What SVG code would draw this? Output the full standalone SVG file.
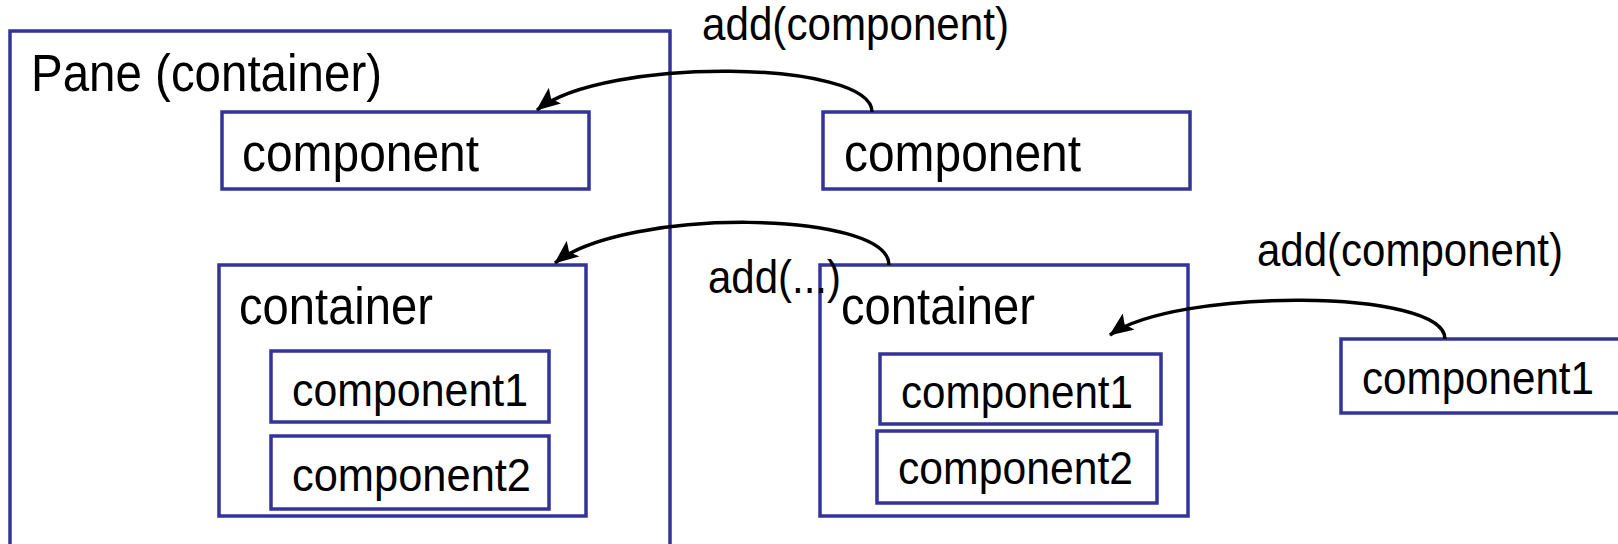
<svg xmlns="http://www.w3.org/2000/svg" width="1618" height="544" viewBox="0 0 1618 544">
  <style>
    .box { fill: none; stroke: #333399; stroke-width: 3.5; }
    .lbl { font-family: "Liberation Sans", Arial, sans-serif; fill: #000; }
    .big { font-size: 51px; }
    .small { font-size: 46px; }
    .conn { fill: none; stroke: #000; stroke-width: 3.5; }
  </style>
  <defs>
    <marker id="arrow" viewBox="0 0 24 20" refX="23" refY="10" markerWidth="24" markerHeight="20" markerUnits="userSpaceOnUse" orient="auto">
      <path d="M0,0 L24,10 L0,20 L5,10 z" fill="#000"/>
    </marker>
  </defs>
  <rect width="1618" height="544" fill="#fff"/>

  <!-- outer pane -->
  <g id="pane">
    <rect class="box" x="10" y="31" width="660" height="540"/>
    <text class="lbl big" x="31" y="91" textLength="351" lengthAdjust="spacingAndGlyphs">Pane (container)</text>
  </g>

  <!-- component already inside the pane -->
  <g id="pane-component">
    <rect class="box" x="222" y="112" width="367" height="77"/>
    <text class="lbl big" x="242" y="171" textLength="237" lengthAdjust="spacingAndGlyphs">component</text>
  </g>

  <!-- free component -->
  <g id="free-component">
    <rect class="box" x="823" y="112" width="367" height="77"/>
    <text class="lbl big" x="844" y="171" textLength="237" lengthAdjust="spacingAndGlyphs">component</text>
  </g>

  <!-- container inside the pane -->
  <g id="pane-container">
    <rect class="box" x="219" y="265" width="367" height="251"/>
    <text class="lbl big" x="239" y="324" textLength="194" lengthAdjust="spacingAndGlyphs">container</text>
  </g>
  <g id="pane-container-c1">
    <rect class="box" x="271" y="351" width="278" height="71"/>
    <text class="lbl small" x="292" y="406" textLength="236" lengthAdjust="spacingAndGlyphs">component1</text>
  </g>
  <g id="pane-container-c2">
    <rect class="box" x="271" y="436" width="278" height="73"/>
    <text class="lbl small" x="292" y="491" textLength="239" lengthAdjust="spacingAndGlyphs">component2</text>
  </g>

  <!-- free container -->
  <g id="free-container">
    <rect class="box" x="820" y="265" width="368" height="251"/>
    <text class="lbl big" x="841" y="324" textLength="194" lengthAdjust="spacingAndGlyphs">container</text>
  </g>
  <g id="free-container-c1">
    <rect class="box" x="880" y="354" width="281" height="70"/>
    <text class="lbl small" x="901" y="408" textLength="232" lengthAdjust="spacingAndGlyphs">component1</text>
  </g>
  <g id="free-container-c2">
    <rect class="box" x="877" y="431" width="280" height="72"/>
    <text class="lbl small" x="898" y="484" textLength="235" lengthAdjust="spacingAndGlyphs">component2</text>
  </g>

  <!-- free component1 -->
  <g id="free-component1">
    <rect class="box" x="1341" y="339" width="300" height="74"/>
    <text class="lbl small" x="1362" y="394" textLength="232" lengthAdjust="spacingAndGlyphs">component1</text>
  </g>

  <!-- add() calls -->
  <g id="connectors">
    <path class="conn" d="M872,112 C872,60 605,56 537,110" marker-end="url(#arrow)"/>
    <text class="lbl small" x="702" y="40" textLength="307" lengthAdjust="spacingAndGlyphs">add(component)</text>
    <path class="conn" d="M889,265 C889,210 625,207 555,263" marker-end="url(#arrow)"/>
    <text class="lbl small" x="708" y="293" textLength="133" lengthAdjust="spacingAndGlyphs">add(...)</text>
    <path class="conn" d="M1445,339 C1445,288 1175,288 1110,335" marker-end="url(#arrow)"/>
    <text class="lbl small" x="1257" y="266" textLength="306" lengthAdjust="spacingAndGlyphs">add(component)</text>
  </g>
</svg>
